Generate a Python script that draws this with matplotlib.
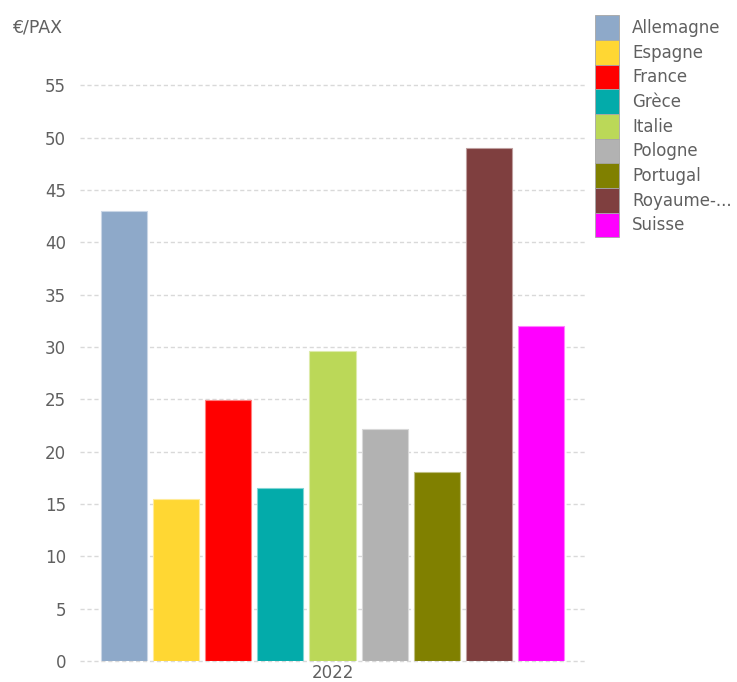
import matplotlib.pyplot as plt
from matplotlib.patches import Patch
import numpy as np

# Data
countries = ['Allemagne', 'Espagne', 'France', 'Grèce', 'Italie',
             'Pologne', 'Portugal', 'Royaume-...', 'Suisse']
values = [43.0, 15.5, 24.9, 16.5, 29.6, 22.2, 18.1, 49.0, 32.0]
colors = ['#8EA9C9', '#FFD733', '#FF0000', '#03ABAA', '#BBD858',
          '#B2B2B2', '#808000', '#7F3F3F', '#FF00FF']
edges = ['#C9D6E6', '#FFEB99', '#FF8080', '#80D5D4', '#DDEBAB',
         '#D8D8D8', '#BFBF80', '#BF9F9F', '#FF80FF']
year = '2022'
yticks = list(range(0, 60, 5))

fig = plt.figure(figsize=(7.37, 6.82), dpi=100)
ax = fig.add_axes([80 / 737, 21 / 682, 505 / 737, 607 / 682])

x = np.arange(len(countries))
ax.bar(x, values, width=0.885, color=colors, edgecolor=edges, linewidth=0.8, zorder=3)

ax.set_xlim(-0.85, len(countries) - 1 + 0.85)
ax.set_ylim(0, 58)
ax.set_yticks(yticks)
ax.set_xticks([(len(countries) - 1) / 2])
ax.set_xticklabels([year])

ax.grid(axis='y', linestyle=(0, (3, 2)), color='#D9D9D9', linewidth=1, zorder=0)
for gl in ax.get_ygridlines():
    gl.set_clip_on(False)
for s in ax.spines.values():
    s.set_visible(False)
ax.tick_params(axis='both', length=0, colors='#606060', labelsize=12)
ax.tick_params(axis='y', pad=10)
ax.tick_params(axis='x', pad=2)

fig.text(12 / 737, 1 - 27 / 682, '€/PAX', fontsize=12.5, color='#606060', va='center', ha='left')

handles = [Patch(facecolor=c, edgecolor='#A6A6A6', linewidth=0.6) for c in colors]
fig.legend(handles, countries, loc='upper left', bbox_to_anchor=(592 / 737, 1 - 12 / 682),
           frameon=False, fontsize=12, labelcolor='#606060', handlelength=1.42,
           handleheight=1.9, labelspacing=0.0, handletextpad=0.8, borderpad=0.2,
           borderaxespad=0)

fig.savefig('out.png', dpi=100)
